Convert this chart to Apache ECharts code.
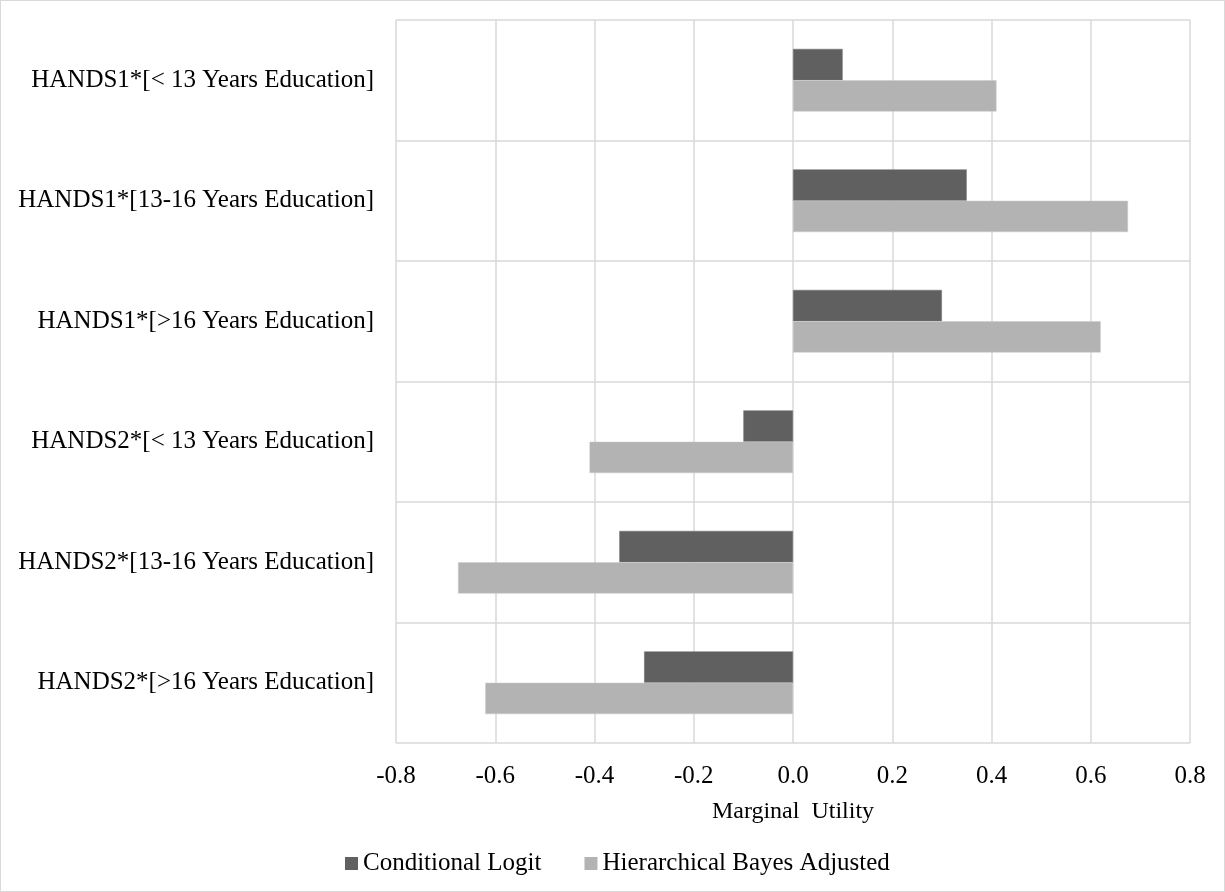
<!DOCTYPE html>
<html>
<head>
<meta charset="utf-8">
<script src="https://cdn.jsdelivr.net/npm/echarts@6/dist/echarts.min.js"></script>
<style>
html,body{margin:0;padding:0;background:#fff;}
#c{width:1225px;height:892px;box-sizing:border-box;border:1px solid #d9d9d9;}
</style>
</head>
<body>
<div id="c"></div>
<script>
const categories = [
  "HANDS1*[< 13 Years Education]",
  "HANDS1*[13-16 Years Education]",
  "HANDS1*[>16 Years Education]",
  "HANDS2*[< 13 Years Education]",
  "HANDS2*[13-16 Years Education]",
  "HANDS2*[>16 Years Education]"
];
const conditionalLogit = [0.10, 0.35, 0.30, -0.10, -0.35, -0.30];
const hierarchicalBayes = [0.41, 0.675, 0.62, -0.41, -0.675, -0.62];
const seriesNames = ["Conditional Logit", "Hierarchical Bayes Adjusted"];
const axisName = "Marginal  Utility";

const font = "'Liberation Serif', 'Times New Roman', serif";
const chart = echarts.init(document.getElementById('c'));
chart.setOption({
  animation: false,
  textStyle: {fontFamily: font},
  grid: {left: 395, right: 34, top: 19, bottom: 148, containLabel: false},
  legend: {
    bottom: 10, left: 339,
    icon: 'rect', itemWidth: 13, itemHeight: 13, itemGap: 43,
    itemStyle: {borderWidth: 0},
    textStyle: {fontFamily: font, fontSize: 25, color: '#000'},
    data: seriesNames
  },
  xAxis: {
    type: 'value', min: -0.8, max: 0.8, interval: 0.2,
    name: axisName, nameLocation: 'middle', nameGap: 57,
    nameTextStyle: {fontFamily: font, fontSize: 24, color: '#000'},
    axisLine: {show: false}, axisTick: {show: false},
    axisLabel: {fontFamily: font, fontSize: 25, color: '#000', margin: 21,
      formatter: v => v.toFixed(1)},
    splitLine: {show: true, lineStyle: {color: '#d9d9d9', width: 1.5}}
  },
  yAxis: {
    type: 'category', data: categories, inverse: true,
    axisLine: {show: false}, axisTick: {show: false},
    axisLabel: {fontFamily: font, fontSize: 25, color: '#000', margin: 22},
    splitLine: {show: true, lineStyle: {color: '#d9d9d9', width: 1.5}}
  },
  series: [
    {name: seriesNames[0], type: 'bar', data: conditionalLogit,
     barGap: '0%', barCategoryGap: '48%',
     itemStyle: {color: '#606060', borderColor: '#707070', borderWidth: 0.5}},
    {name: seriesNames[1], type: 'bar', data: hierarchicalBayes,
     barGap: '0%', barCategoryGap: '48%',
     itemStyle: {color: '#b3b3b3', borderColor: '#c8c8c8', borderWidth: 0.5}}
  ]
});
</script>
</body>
</html>
